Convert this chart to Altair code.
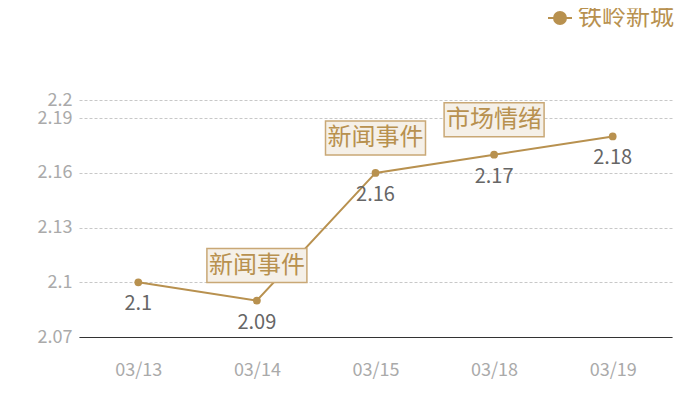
import altair as alt
import pandas as pd

dates = ["03/13", "03/14", "03/15", "03/18", "03/19"]
values = [2.10, 2.09, 2.16, 2.17, 2.18]
series = "铁岭新城"
ann_dates = ["03/14", "03/15", "03/18"]
ann_texts = ["新闻事件", "新闻事件", "市场情绪"]
y_ticks = [2.07, 2.1, 2.13, 2.16, 2.19, 2.2]

GOLD = "#b8914f"
FONT = "Noto Sans CJK SC"

df = pd.DataFrame({"date": dates, "value": values, "series": [series] * len(dates)})
ann = pd.DataFrame({"date": ann_dates, "text": ann_texts,
                    "value": [values[dates.index(d)] for d in ann_dates]})

xenc = alt.X("date:N", sort=dates, title=None,
             scale=alt.Scale(type="point", padding=0.5),
             axis=alt.Axis(labelAngle=0, ticks=False, grid=False, domainColor="#333",
                           domainWidth=1, labelColor="#aaa", labelFontSize=18,
                           labelPadding=24, labelFont=FONT))
yenc = alt.Y("value:Q", title=None,
             scale=alt.Scale(domain=[2.07, 2.2], nice=False, zero=False),
             axis=alt.Axis(values=y_ticks, format=".3~g", domain=False, ticks=False,
                           gridDash=[3, 2], gridColor="#c8c8c8", labelColor="#aaa",
                           labelFontSize=18, labelPadding=7, labelFont=FONT))

legend_path = "M-1,0H1M-0.5,0A0.5,0.5 0 1,0 0.5,0A0.5,0.5 0 1,0 -0.5,0Z"

line = alt.Chart(df).mark_line(strokeWidth=2).encode(
    x=xenc, y=yenc,
    color=alt.Color("series:N", scale=alt.Scale(range=[GOLD]),
                    legend=alt.Legend(title=None, orient="none", legendX=468, legendY=-95,
                                      symbolType=legend_path, symbolSize=576,
                                      symbolStrokeWidth=2, symbolFillColor=GOLD,
                                      symbolStrokeColor=GOLD,
                                      labelFontSize=24, labelColor=GOLD, labelFont=FONT,
                                      labelOffset=5, labelLimit=200))
)
points = alt.Chart(df).mark_circle(size=60, opacity=1, color=GOLD).encode(x=xenc, y=yenc)
labels = alt.Chart(df).mark_text(dy=22, fontSize=20, color="#666", font=FONT).encode(
    x=xenc, y=yenc, text=alt.Text("value:Q", format=".3~g"))

box_path = "M-1,-0.34H1V0.34H-1Z"
boxes = alt.Chart(ann).mark_point(shape=box_path, size=10000, filled=True, fill="#f5f0e8",
                                  stroke="#c9a876", strokeWidth=1.5, opacity=1,
                                  yOffset=-35).encode(x=xenc, y=yenc)
ann_text = alt.Chart(ann).mark_text(dy=-35, fontSize=24, color=GOLD, font=FONT).encode(
    x=xenc, y=yenc, text="text:N")

chart = alt.layer(line, points, boxes, ann_text, labels).properties(
    width=593, height=237,
    autosize=alt.AutoSizeParams(type="none"),
    padding={"left": 71, "top": 92, "right": 20, "bottom": 50},
).configure(font=FONT).configure_view(stroke=None)

chart.save("out.html", embed_options={"renderer": "svg", "actions": False})
